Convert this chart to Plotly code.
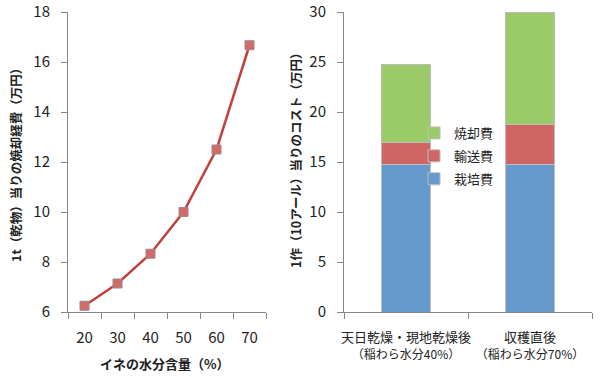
import plotly.graph_objects as go

# Left chart data
moisture = ["20", "30", "40", "50", "60", "70"]
cost_per_t = [6.25, 7.14, 8.33, 10.0, 12.5, 16.67]

# Right chart data
scenarios = ["天日乾燥・現地乾燥後<br><span style='font-size:12px'>（稲わら水分40%）</span>",
             "収穫直後<br><span style='font-size:12px'>（稲わら水分70%）</span>"]
cultivation = [14.8, 14.8]
transport = [2.2, 4.0]
incineration = [7.8, 11.2]

FONT = "Noto Sans CJK JP"
AX = "#868686"
TXT = "#222222"

fig = go.Figure()

fig.add_trace(go.Scatter(
    x=moisture, y=cost_per_t, mode="lines+markers",
    line=dict(color="#C0413E", width=2.5),
    marker=dict(symbol="square", size=9, color="#D36A68",
                line=dict(color="#9A8A8A", width=1)),
    xaxis="x", yaxis="y", showlegend=False))

bar_line = dict(color="#BDBDBD", width=1)
fig.add_trace(go.Bar(x=scenarios, y=cultivation, name="栽培費", legendgroup="a",
                     legendrank=3,
                     marker=dict(color="#6699CC", line=bar_line),
                     xaxis="x2", yaxis="y2"))
fig.add_trace(go.Bar(x=scenarios, y=transport, name="輸送費", legendgroup="b",
                     legendrank=2,
                     marker=dict(color="#CF6664", line=bar_line),
                     xaxis="x2", yaxis="y2"))
fig.add_trace(go.Bar(x=scenarios, y=incineration, name="焼却費", legendgroup="c",
                     legendrank=1,
                     marker=dict(color="#9BCB69", line=bar_line),
                     xaxis="x2", yaxis="y2"))

ybot = (377 - 312) / 377
ytop = (377 - 12) / 377

axis_common = dict(showline=True, linecolor=AX, linewidth=1, ticks="outside",
                   ticklen=6, tickcolor=AX, showgrid=False, zeroline=False,
                   automargin=False, tickangle=0)
num_font = dict(family=FONT, size=15, color=TXT)

fig.update_layout(
    width=600, height=377,
    margin=dict(l=0, r=0, t=0, b=0),
    paper_bgcolor="white", plot_bgcolor="white",
    font=dict(family=FONT, color=TXT),
    barmode="stack", bargap=0.6,
    xaxis=dict(domain=[68/600, 266/600], anchor="y", type="category",
               range=[-0.5, 5.5], tickson="boundaries", tickfont=num_font,
               ticklabelstandoff=12, **axis_common),
    yaxis=dict(domain=[ybot, ytop], anchor="x", range=[6, 18], dtick=2,
               tickfont=num_font, ticklabelstandoff=8, **axis_common),
    xaxis2=dict(domain=[344/600, 592/600], anchor="y2", type="category",
                range=[-0.5, 1.5], tickson="boundaries",
                tickfont=dict(family=FONT, size=13, color=TXT),
                ticklabelstandoff=13, **axis_common),
    yaxis2=dict(domain=[ybot, ytop], anchor="x2", range=[0, 30], dtick=5,
                tickfont=num_font, ticklabelstandoff=8, **axis_common),
    legend=dict(x=414/600, y=1 - 118/377, xanchor="left", yanchor="top",
                traceorder="grouped", tracegroupgap=3,
                bgcolor="rgba(0,0,0,0)",
                font=dict(family=FONT, size=13, color=TXT),
                itemwidth=30),
    annotations=[
        dict(text="<b>1t（乾物）当りの焼却経費（万円）</b>", xref="paper", yref="paper",
             x=15/600, y=1 - 162/377, textangle=-90, showarrow=False,
             xanchor="center", yanchor="middle",
             font=dict(family=FONT, size=12.5, color=TXT)),
        dict(text="<b>イネの水分含量（%）</b>", xref="paper", yref="paper",
             x=165/600, y=1 - 363/377, showarrow=False,
             xanchor="center", yanchor="middle",
             font=dict(family=FONT, size=13, color=TXT)),
        dict(text="<b>1作（10アール）当りのコスト（万円）</b>", xref="paper", yref="paper",
             x=295/600, y=1 - 158/377, textangle=-90, showarrow=False,
             xanchor="center", yanchor="middle",
             font=dict(family=FONT, size=12.5, color=TXT)),
    ],
)

fig.write_html("out.html")
